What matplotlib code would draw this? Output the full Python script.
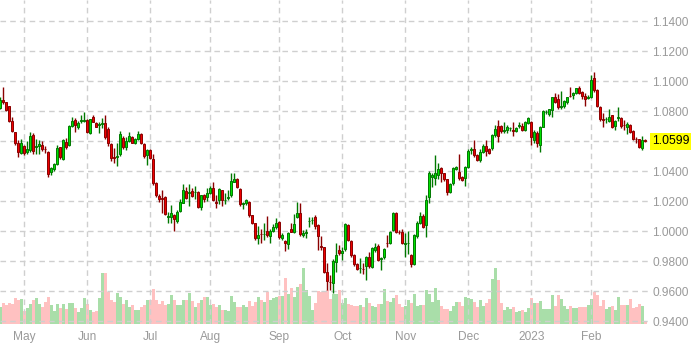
import matplotlib
matplotlib.use("Agg")
import matplotlib.pyplot as plt
import matplotlib.transforms as mtransforms
import numpy as np
import pandas as pd

plt.rcParams['font.family'] = ['Liberation Sans', 'DejaVu Sans']

# trading days (exchange holidays have no candle)
holidays = ['2022-05-30', '2022-06-20', '2022-07-04', '2022-09-05', '2022-11-24',
            '2022-12-26', '2023-01-02', '2023-01-16', '2023-02-20']
dates = pd.bdate_range('2022-04-20', '2023-02-28', freq='C', holidays=holidays)

opens = [
    1.0820, 1.0876, 1.0862, 1.0836, 1.0733, 1.0662, 1.0587, 1.0524, 1.0569, 1.0529,
    1.0542, 1.0642, 1.0562, 1.0569, 1.0576, 1.0551, 1.0531, 1.0398, 1.0413, 1.0449,
    1.0560, 1.0480, 1.0596, 1.0576, 1.0702, 1.0742, 1.0693, 1.0736, 1.0738, 1.0742,
    1.0658, 1.0760, 1.0720, 1.0709, 1.0716, 1.0720, 1.0680, 1.0582, 1.0493, 1.0493,
    1.0516, 1.0622, 1.0560, 1.0604, 1.0631, 1.0591, 1.0618, 1.0649, 1.0582, 1.0511,
    1.0542, 1.0482, 1.0324, 1.0236, 1.0220, 1.0231, 1.0098, 1.0093, 1.0109, 1.0071,
    1.0138, 1.0191, 1.0269, 1.0258, 1.0267, 1.0260, 1.0262, 1.0160, 1.0242, 1.0231,
    1.0258, 1.0289, 1.0193, 1.0209, 1.0276, 1.0209, 1.0222, 1.0242, 1.0331, 1.0351,
    1.0280, 1.0184, 1.0191, 1.0196, 1.0109, 1.0053, 0.9958, 0.9982, 0.9980, 1.0000,
    0.9969, 1.0004, 1.0031, 1.0062, 0.9956, 0.9938, 0.9916, 1.0013, 0.9998, 1.0093,
    1.0120, 0.9976, 0.9987, 1.0067, 1.0076, 1.0098, 1.0042, 0.9902, 0.9893, 0.9729,
    0.9664, 0.9653, 0.9798, 0.9876, 0.9858, 0.9880, 1.0040, 0.9936, 0.9842, 0.9782,
    0.9753, 0.9751, 0.9769, 0.9827, 0.9764, 0.9873, 0.9902, 0.9816, 0.9831, 0.9922,
    0.9920, 1.0009, 1.0120, 0.9998, 0.9998, 0.9918, 0.9922, 0.9842, 0.9782, 0.9967,
    1.0053, 1.0102, 1.0042, 1.0231, 1.0362, 1.0353, 1.0376, 1.0424, 1.0387, 1.0347,
    1.0264, 1.0320, 1.0416, 1.0396, 1.0364, 1.0353, 1.0427, 1.0544, 1.0547, 1.0509,
    1.0476, 1.0531, 1.0569, 1.0547, 1.0553, 1.0642, 1.0702, 1.0702, 1.0671, 1.0676,
    1.0687, 1.0676, 1.0671, 1.0704, 1.0702, 1.0676, 1.0720, 1.0731, 1.0609, 1.0658,
    1.0576, 1.0698, 1.0793, 1.0782, 1.0809, 1.0893, 1.0880, 1.0831, 1.0836, 1.0864,
    1.0904, 1.0911, 1.0924, 1.0953, 1.0931, 1.0902, 1.0891, 1.0898, 1.1020, 1.0942,
    1.0831, 1.0747, 1.0747, 1.0738, 1.0776, 1.0702, 1.0758, 1.0753, 1.0709, 1.0693,
    1.0709, 1.0671, 1.0618, 1.0613, 1.0556, 1.0612,
]
highs = [
    1.0893, 1.0964, 1.0865, 1.0838, 1.0760, 1.0665, 1.0609, 1.0613, 1.0575, 1.0602,
    1.0664, 1.0653, 1.0613, 1.0609, 1.0604, 1.0571, 1.0538, 1.0427, 1.0456, 1.0573,
    1.0564, 1.0613, 1.0622, 1.0707, 1.0760, 1.0756, 1.0738, 1.0773, 1.0798, 1.0747,
    1.0751, 1.0775, 1.0727, 1.0731, 1.0753, 1.0773, 1.0693, 1.0587, 1.0553, 1.0587,
    1.0669, 1.0636, 1.0631, 1.0660, 1.0638, 1.0624, 1.0669, 1.0656, 1.0587, 1.0547,
    1.0547, 1.0513, 1.0327, 1.0249, 1.0276, 1.0236, 1.0131, 1.0176, 1.0118, 1.0140,
    1.0213, 1.0316, 1.0293, 1.0316, 1.0289, 1.0302, 1.0267, 1.0244, 1.0251, 1.0289,
    1.0302, 1.0329, 1.0242, 1.0287, 1.0278, 1.0253, 1.0276, 1.0391, 1.0387, 1.0356,
    1.0287, 1.0198, 1.0216, 1.0200, 1.0111, 1.0053, 1.0036, 1.0013, 1.0053, 1.0102,
    1.0013, 1.0049, 1.0087, 1.0067, 0.9991, 0.9942, 0.9996, 1.0058, 1.0116, 1.0198,
    1.0187, 1.0009, 1.0018, 1.0098, 1.0098, 1.0111, 1.0049, 0.9969, 0.9898, 0.9787,
    0.9709, 0.9818, 0.9920, 0.9909, 0.9898, 1.0058, 1.0049, 0.9942, 0.9849, 0.9787,
    0.9820, 0.9787, 0.9836, 0.9862, 0.9893, 0.9924, 0.9913, 0.9831, 0.9887, 0.9978,
    1.0004, 1.0129, 1.0129, 1.0009, 1.0013, 0.9991, 1.0004, 0.9847, 0.9982, 1.0067,
    1.0131, 1.0113, 1.0242, 1.0402, 1.0387, 1.0509, 1.0458, 1.0429, 1.0391, 1.0351,
    1.0320, 1.0431, 1.0433, 1.0516, 1.0369, 1.0436, 1.0547, 1.0560, 1.0609, 1.0513,
    1.0547, 1.0580, 1.0609, 1.0553, 1.0647, 1.0707, 1.0742, 1.0711, 1.0731, 1.0707,
    1.0698, 1.0729, 1.0698, 1.0731, 1.0722, 1.0738, 1.0760, 1.0738, 1.0678, 1.0669,
    1.0702, 1.0809, 1.0809, 1.0818, 1.0898, 1.0920, 1.0916, 1.0938, 1.0876, 1.0898,
    1.0960, 1.0929, 1.0956, 1.0969, 1.0936, 1.0920, 1.0909, 1.1042, 1.1062, 1.0947,
    1.0836, 1.0787, 1.0764, 1.0813, 1.0778, 1.0742, 1.0831, 1.0762, 1.0742, 1.0727,
    1.0713, 1.0678, 1.0631, 1.0618, 1.0638, 1.0618,
]
lows = [
    1.0813, 1.0848, 1.0805, 1.0731, 1.0662, 1.0576, 1.0498, 1.0516, 1.0509, 1.0513,
    1.0530, 1.0513, 1.0516, 1.0516, 1.0538, 1.0520, 1.0364, 1.0376, 1.0404, 1.0440,
    1.0484, 1.0476, 1.0549, 1.0571, 1.0698, 1.0660, 1.0680, 1.0722, 1.0729, 1.0656,
    1.0651, 1.0727, 1.0693, 1.0658, 1.0687, 1.0618, 1.0571, 1.0469, 1.0453, 1.0436,
    1.0502, 1.0549, 1.0540, 1.0596, 1.0587, 1.0580, 1.0611, 1.0584, 1.0491, 1.0440,
    1.0480, 1.0311, 1.0227, 1.0193, 1.0120, 1.0107, 1.0053, 1.0053, 1.0004, 1.0058,
    1.0127, 1.0187, 1.0213, 1.0169, 1.0229, 1.0218, 1.0156, 1.0144, 1.0198, 1.0204,
    1.0249, 1.0200, 1.0158, 1.0184, 1.0171, 1.0182, 1.0209, 1.0231, 1.0327, 1.0287,
    1.0171, 1.0147, 1.0176, 1.0098, 1.0049, 0.9942, 0.9916, 0.9924, 0.9942, 0.9962,
    0.9924, 0.9993, 1.0018, 0.9951, 0.9944, 0.9871, 0.9880, 0.9993, 0.9990, 1.0087,
    0.9969, 0.9964, 0.9958, 1.0031, 1.0049, 1.0018, 0.9876, 0.9876, 0.9722, 0.9609,
    0.9609, 0.9591, 0.9731, 0.9842, 0.9809, 0.9871, 0.9933, 0.9831, 0.9771, 0.9740,
    0.9720, 0.9716, 0.9676, 0.9758, 0.9756, 0.9862, 0.9800, 0.9742, 0.9818, 0.9893,
    0.9913, 1.0002, 0.9991, 0.9984, 0.9916, 0.9831, 0.9851, 0.9764, 0.9773, 0.9958,
    1.0049, 1.0022, 0.9964, 1.0191, 1.0298, 1.0309, 1.0349, 1.0331, 1.0333, 1.0242,
    1.0256, 1.0309, 1.0408, 1.0342, 1.0333, 1.0302, 1.0422, 1.0513, 1.0498, 1.0471,
    1.0462, 1.0524, 1.0502, 1.0513, 1.0544, 1.0627, 1.0598, 1.0658, 1.0658, 1.0658,
    1.0671, 1.0636, 1.0662, 1.0689, 1.0671, 1.0671, 1.0716, 1.0576, 1.0591, 1.0560,
    1.0531, 1.0693, 1.0782, 1.0769, 1.0764, 1.0856, 1.0813, 1.0813, 1.0822, 1.0849,
    1.0898, 1.0880, 1.0918, 1.0918, 1.0884, 1.0836, 1.0880, 1.0887, 1.0929, 1.0829,
    1.0738, 1.0698, 1.0724, 1.0729, 1.0689, 1.0676, 1.0736, 1.0687, 1.0676, 1.0649,
    1.0658, 1.0611, 1.0591, 1.0558, 1.0545, 1.0595,
]
closes = [
    1.0876, 1.0862, 1.0809, 1.0738, 1.0671, 1.0587, 1.0531, 1.0587, 1.0520, 1.0547,
    1.0636, 1.0538, 1.0569, 1.0582, 1.0551, 1.0547, 1.0382, 1.0420, 1.0449, 1.0556,
    1.0493, 1.0609, 1.0560, 1.0702, 1.0736, 1.0707, 1.0724, 1.0740, 1.0743, 1.0664,
    1.0747, 1.0731, 1.0698, 1.0713, 1.0722, 1.0627, 1.0591, 1.0491, 1.0491, 1.0500,
    1.0649, 1.0564, 1.0600, 1.0636, 1.0591, 1.0618, 1.0649, 1.0591, 1.0502, 1.0542,
    1.0487, 1.0320, 1.0240, 1.0213, 1.0218, 1.0116, 1.0102, 1.0120, 1.0080, 1.0129,
    1.0193, 1.0276, 1.0222, 1.0262, 1.0238, 1.0262, 1.0164, 1.0240, 1.0213, 1.0258,
    1.0289, 1.0209, 1.0191, 1.0280, 1.0209, 1.0211, 1.0231, 1.0333, 1.0351, 1.0293,
    1.0182, 1.0189, 1.0209, 1.0109, 1.0053, 0.9953, 0.9976, 0.9980, 0.9982, 0.9978,
    1.0004, 1.0031, 1.0058, 0.9960, 0.9978, 0.9920, 0.9991, 0.9998, 1.0049, 1.0120,
    0.9982, 0.9987, 0.9998, 1.0071, 1.0078, 1.0036, 0.9969, 0.9898, 0.9731, 0.9671,
    0.9662, 0.9802, 0.9842, 0.9858, 0.9867, 1.0049, 0.9942, 0.9842, 0.9782, 0.9751,
    0.9755, 0.9749, 0.9827, 0.9769, 0.9887, 0.9893, 0.9809, 0.9820, 0.9880, 0.9920,
    0.9998, 1.0120, 0.9998, 0.9996, 0.9924, 0.9922, 0.9924, 0.9782, 0.9976, 1.0058,
    1.0102, 1.0031, 1.0209, 1.0387, 1.0376, 1.0387, 1.0413, 1.0391, 1.0347, 1.0264,
    1.0316, 1.0424, 1.0427, 1.0353, 1.0342, 1.0431, 1.0538, 1.0547, 1.0509, 1.0476,
    1.0531, 1.0569, 1.0538, 1.0524, 1.0642, 1.0680, 1.0636, 1.0671, 1.0676, 1.0693,
    1.0689, 1.0671, 1.0689, 1.0707, 1.0676, 1.0731, 1.0756, 1.0627, 1.0664, 1.0587,
    1.0698, 1.0804, 1.0796, 1.0813, 1.0893, 1.0864, 1.0831, 1.0836, 1.0871, 1.0893,
    1.0902, 1.0924, 1.0953, 1.0924, 1.0902, 1.0880, 1.0893, 1.1009, 1.0942, 1.0836,
    1.0747, 1.0744, 1.0749, 1.0760, 1.0698, 1.0738, 1.0762, 1.0702, 1.0707, 1.0716,
    1.0664, 1.0618, 1.0616, 1.0564, 1.0610, 1.0599,
]
volumes = [
    50, 62, 55, 62, 60, 77, 70, 74, 39, 47, 60, 71, 77, 60, 51, 66, 81, 55,
    39, 60, 47, 60, 43, 62, 61, 47, 35, 48, 78, 60, 42, 36, 39, 78, 152, 153, 96,
    72, 66, 91, 80, 60, 72, 50, 56, 41, 41, 50, 56, 72, 70, 104, 70, 58, 68,
    56, 60, 86, 72, 56, 56, 72, 72, 91, 68, 50, 62, 72, 80, 80, 56, 58,
    50, 56, 42, 40, 38, 83, 66, 50, 50, 56, 50, 68, 53, 66, 80, 72, 66, 96,
    72, 78, 80, 83, 84, 136, 90, 106, 80, 110, 120, 166, 102, 82, 42, 62, 98,
    96, 96, 102, 74, 88, 88, 100, 62, 76, 60, 56, 54, 52, 56, 50, 76, 62, 53,
    50, 58, 58, 104, 68, 64, 76, 86, 58, 50, 53, 70, 62, 88, 54, 56, 56,
    100, 88, 66, 106, 72, 52, 44, 44, 38, 52, 66, 64, 52, 80, 76, 74, 66, 50,
    72, 54, 62, 74, 134, 166, 132, 62, 42, 50, 44, 50, 36, 38, 42, 36, 46,
    78, 62, 62, 68, 44, 44, 44, 86, 52, 86, 74, 52, 44, 52, 46, 46, 50, 50,
    50, 56, 74, 95, 86, 52, 70, 44, 50, 52, 42, 80, 56, 56, 56, 74, 48, 50, 58, 54, 8,
]

o = np.array(opens)
h = np.array(highs)
l = np.array(lows)
c = np.array(closes)
v = np.array(volumes)
x = np.arange(len(dates))
up = c >= o

grey = '#9a9a9a'
fig = plt.figure(figsize=(6.91, 3.43), dpi=100)
rect = [0.0, 19.4 / 343, 648 / 691, 323.6 / 343]
axv = fig.add_axes(rect)
ax = axv.twinx()
ax.set_zorder(axv.get_zorder() + 1)
ax.patch.set_visible(False)
ax.xaxis.set_visible(True)

# volume
axv.bar(x, v, width=1.0, color=np.where(up, '#a9dea9', '#ffc1c1'), linewidth=0)
axv.set_ylim(0, 972)
axv.set_yticks([])
for s in axv.spines.values():
    s.set_visible(False)

# candles
edge = np.where(up, '#007800', '#8a0000')
face = np.where(up, '#00e000', '#ee0000')
ax.vlines(x, l, h, colors=edge, linewidth=1.0, zorder=3)
body = np.maximum(np.abs(c - o), 0.00025)
ax.bar(x, body, bottom=np.minimum(o, c), width=0.72, color=face,
       edgecolor=edge, linewidth=0.7, zorder=4)

ax.set_xlim(-0.1, 215.9)
ax.set_ylim(0.9385, 1.1542)

yt = np.arange(0.94, 1.1401, 0.02)
ax.set_yticks(yt)
ax.set_yticklabels(['%.4f' % t for t in yt])
ax.yaxis.tick_right()

month_start = [i for i in range(1, len(dates)) if dates[i].month != dates[i - 1].month]
labels = [dates[i].strftime('%Y') if dates[i].month == 1 else dates[i].strftime('%b')
          for i in month_start]
ax.set_xticks(month_start)
ax.set_xticklabels(labels)
axv.tick_params(axis='x', labelbottom=False, length=0)

ax.tick_params(axis='both', length=0, labelcolor=grey, labelsize=8.6)
ax.tick_params(axis='y', pad=3)
ax.tick_params(axis='x', pad=5, labelbottom=True)
for s in ax.spines.values():
    s.set_visible(False)

ax.grid(True, axis='both', color='#cfcfcf', linestyle=(0, (4, 3)), linewidth=1.0)

# last price label
tr = mtransforms.blended_transform_factory(ax.transAxes, ax.transData)
ax.text(1.0 + 4.5 / 648, c[-1], '%.4f' % c[-1], transform=tr, ha='left', va='center',
        fontsize=8.8, color='black', clip_on=False, zorder=10,
        bbox=dict(boxstyle='square,pad=0.18', fc='#ffff00', ec='none'))

fig.savefig('out.png', dpi=100)
